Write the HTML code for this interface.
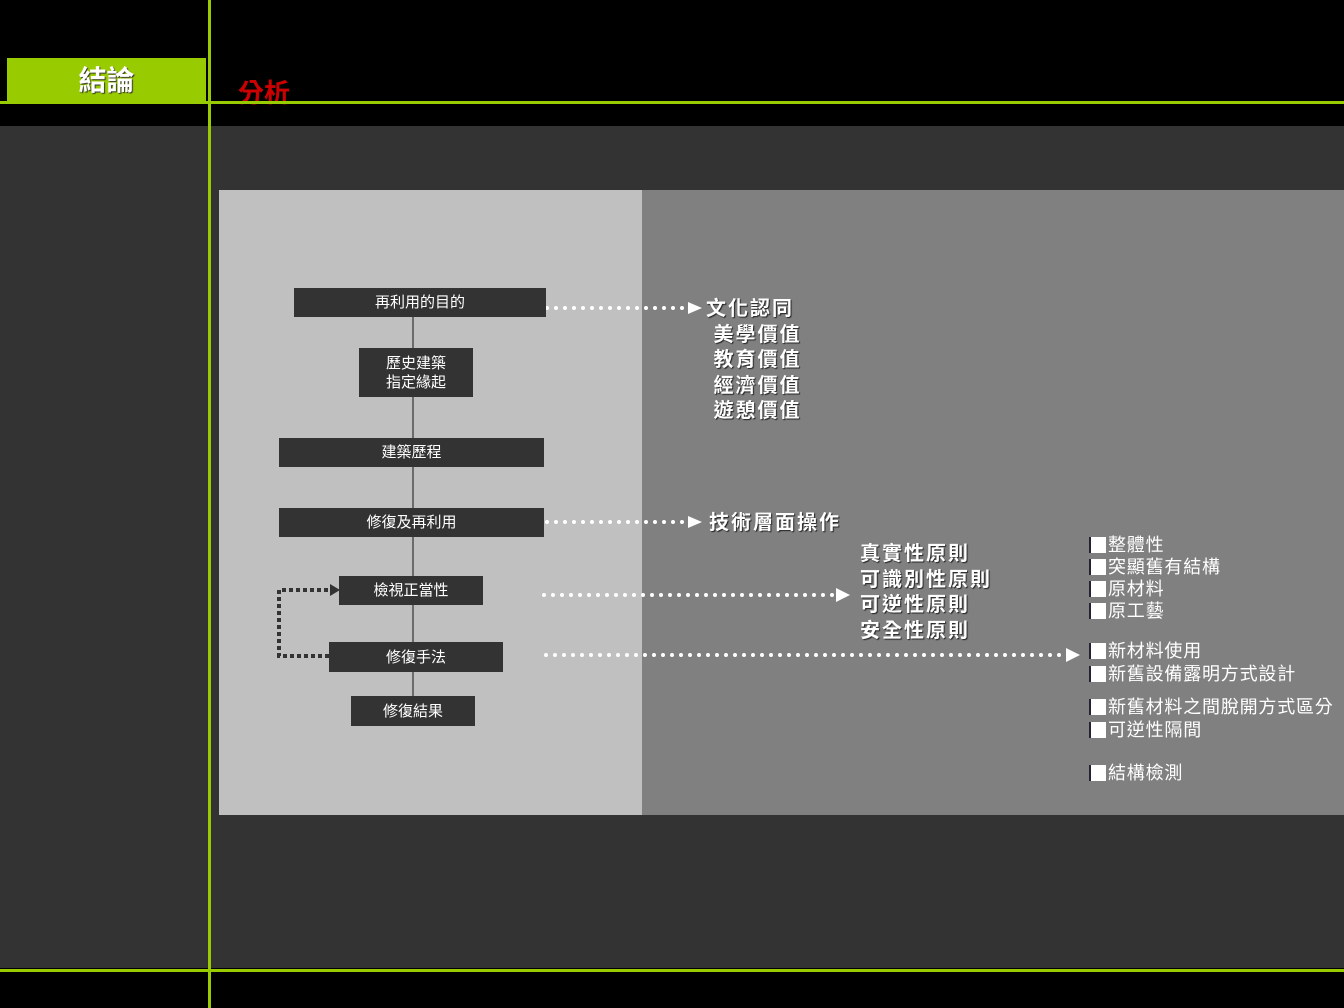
<!DOCTYPE html>
<html><head><meta charset="utf-8"><style>
body{margin:0;width:1344px;height:1008px;background:#000;position:relative;overflow:hidden;font-family:"Liberation Sans","Noto Sans CJK TC",sans-serif}
.a{position:absolute}
.box{position:absolute;background:#333;color:#fff;font-size:15px;display:flex;align-items:center;justify-content:center;text-align:center;line-height:19px}
.t{position:absolute;color:#fff;font-size:20px;font-weight:bold;text-shadow:1px 1px 1px #222;white-space:nowrap;line-height:25.5px;letter-spacing:2px}
.c{position:absolute;color:#fff;font-size:18px;white-space:nowrap;line-height:22px;letter-spacing:0.8px}
.c:before{content:"";display:inline-block;width:15px;height:16px;background:#fff;border-left:2px solid #223;margin-right:2px;vertical-align:-2px}
</style></head><body>
<div class="a" style="left:0;top:126px;width:1344px;height:842px;background:#333"></div>
<div class="a" style="left:7px;top:58px;width:199px;height:43px;background:#99cc00;color:#fff;font-size:28px;font-weight:bold;text-align:center;line-height:46px;text-shadow:1px 1px 1px #333">結論</div>
<div class="a" style="left:238px;top:73px;color:#cc0000;font-size:26px;font-weight:bold">分析</div>
<div class="a" style="left:0;top:101px;width:1344px;height:3px;background:#99cc00"></div>
<div class="a" style="left:0;top:969px;width:1344px;height:3px;background:#99cc00"></div>
<div class="a" style="left:208px;top:0;width:3px;height:1008px;background:#99cc00"></div>
<div class="a" style="left:219px;top:190px;width:423px;height:625px;background:#c0c0c0"></div>
<div class="a" style="left:642px;top:190px;width:702px;height:625px;background:#808080"></div>
<svg class="a" style="left:0;top:0" width="1344" height="1008">
<line x1="413" y1="317" x2="413" y2="696" stroke="#333" stroke-width="1.2"/>
<g stroke="#fff" stroke-width="4" stroke-linecap="round" stroke-dasharray="0 9">
<line x1="547" y1="308" x2="688" y2="308"/>
<line x1="547" y1="522" x2="688" y2="522"/>
<line x1="544" y1="595" x2="838" y2="595"/>
<line x1="546" y1="655" x2="1066" y2="655"/>
</g>
<g fill="#fff">
<polygon points="688,302 702,308 688,314"/>
<polygon points="688,516 702,522 688,528"/>
<polygon points="836,588 850,595 836,602"/>
<polygon points="1066,648 1080,655 1066,662"/>
</g>
<polyline points="329,656 279,656 279,590 330,590" fill="none" stroke="#333" stroke-width="4" stroke-dasharray="4 3"/>
<polygon points="330,584 340,590 330,596" fill="#333"/>
</svg>
<div class="box" style="left:294px;top:288px;width:252px;height:29px">再利用的目的</div>
<div class="box" style="left:359px;top:348px;width:114px;height:49px">歷史建築<br>指定緣起</div>
<div class="box" style="left:279px;top:438px;width:265px;height:29px">建築歷程</div>
<div class="box" style="left:279px;top:508px;width:265px;height:29px">修復及再利用</div>
<div class="box" style="left:339px;top:576px;width:144px;height:29px">檢視正當性</div>
<div class="box" style="left:329px;top:642px;width:174px;height:30px">修復手法</div>
<div class="box" style="left:351px;top:696px;width:124px;height:30px">修復結果</div>
<div class="t" style="left:706px;top:297px">文化認同<br>&nbsp;美學價值<br>&nbsp;教育價值<br>&nbsp;經濟價值<br>&nbsp;遊憩價值</div>
<div class="t" style="left:709px;top:511px">技術層面操作</div>
<div class="t" style="left:860px;top:542px">真實性原則<br>可識別性原則<br>可逆性原則<br>安全性原則</div>
<div class="c" style="left:1089px;top:534px">整體性</div>
<div class="c" style="left:1089px;top:556px">突顯舊有結構</div>
<div class="c" style="left:1089px;top:578px">原材料</div>
<div class="c" style="left:1089px;top:600px">原工藝</div>
<div class="c" style="left:1089px;top:640px">新材料使用</div>
<div class="c" style="left:1089px;top:663px">新舊設備露明方式設計</div>
<div class="c" style="left:1089px;top:696px">新舊材料之間脫開方式區分</div>
<div class="c" style="left:1089px;top:719px">可逆性隔間</div>
<div class="c" style="left:1089px;top:762px">結構檢測</div>
</body></html>
